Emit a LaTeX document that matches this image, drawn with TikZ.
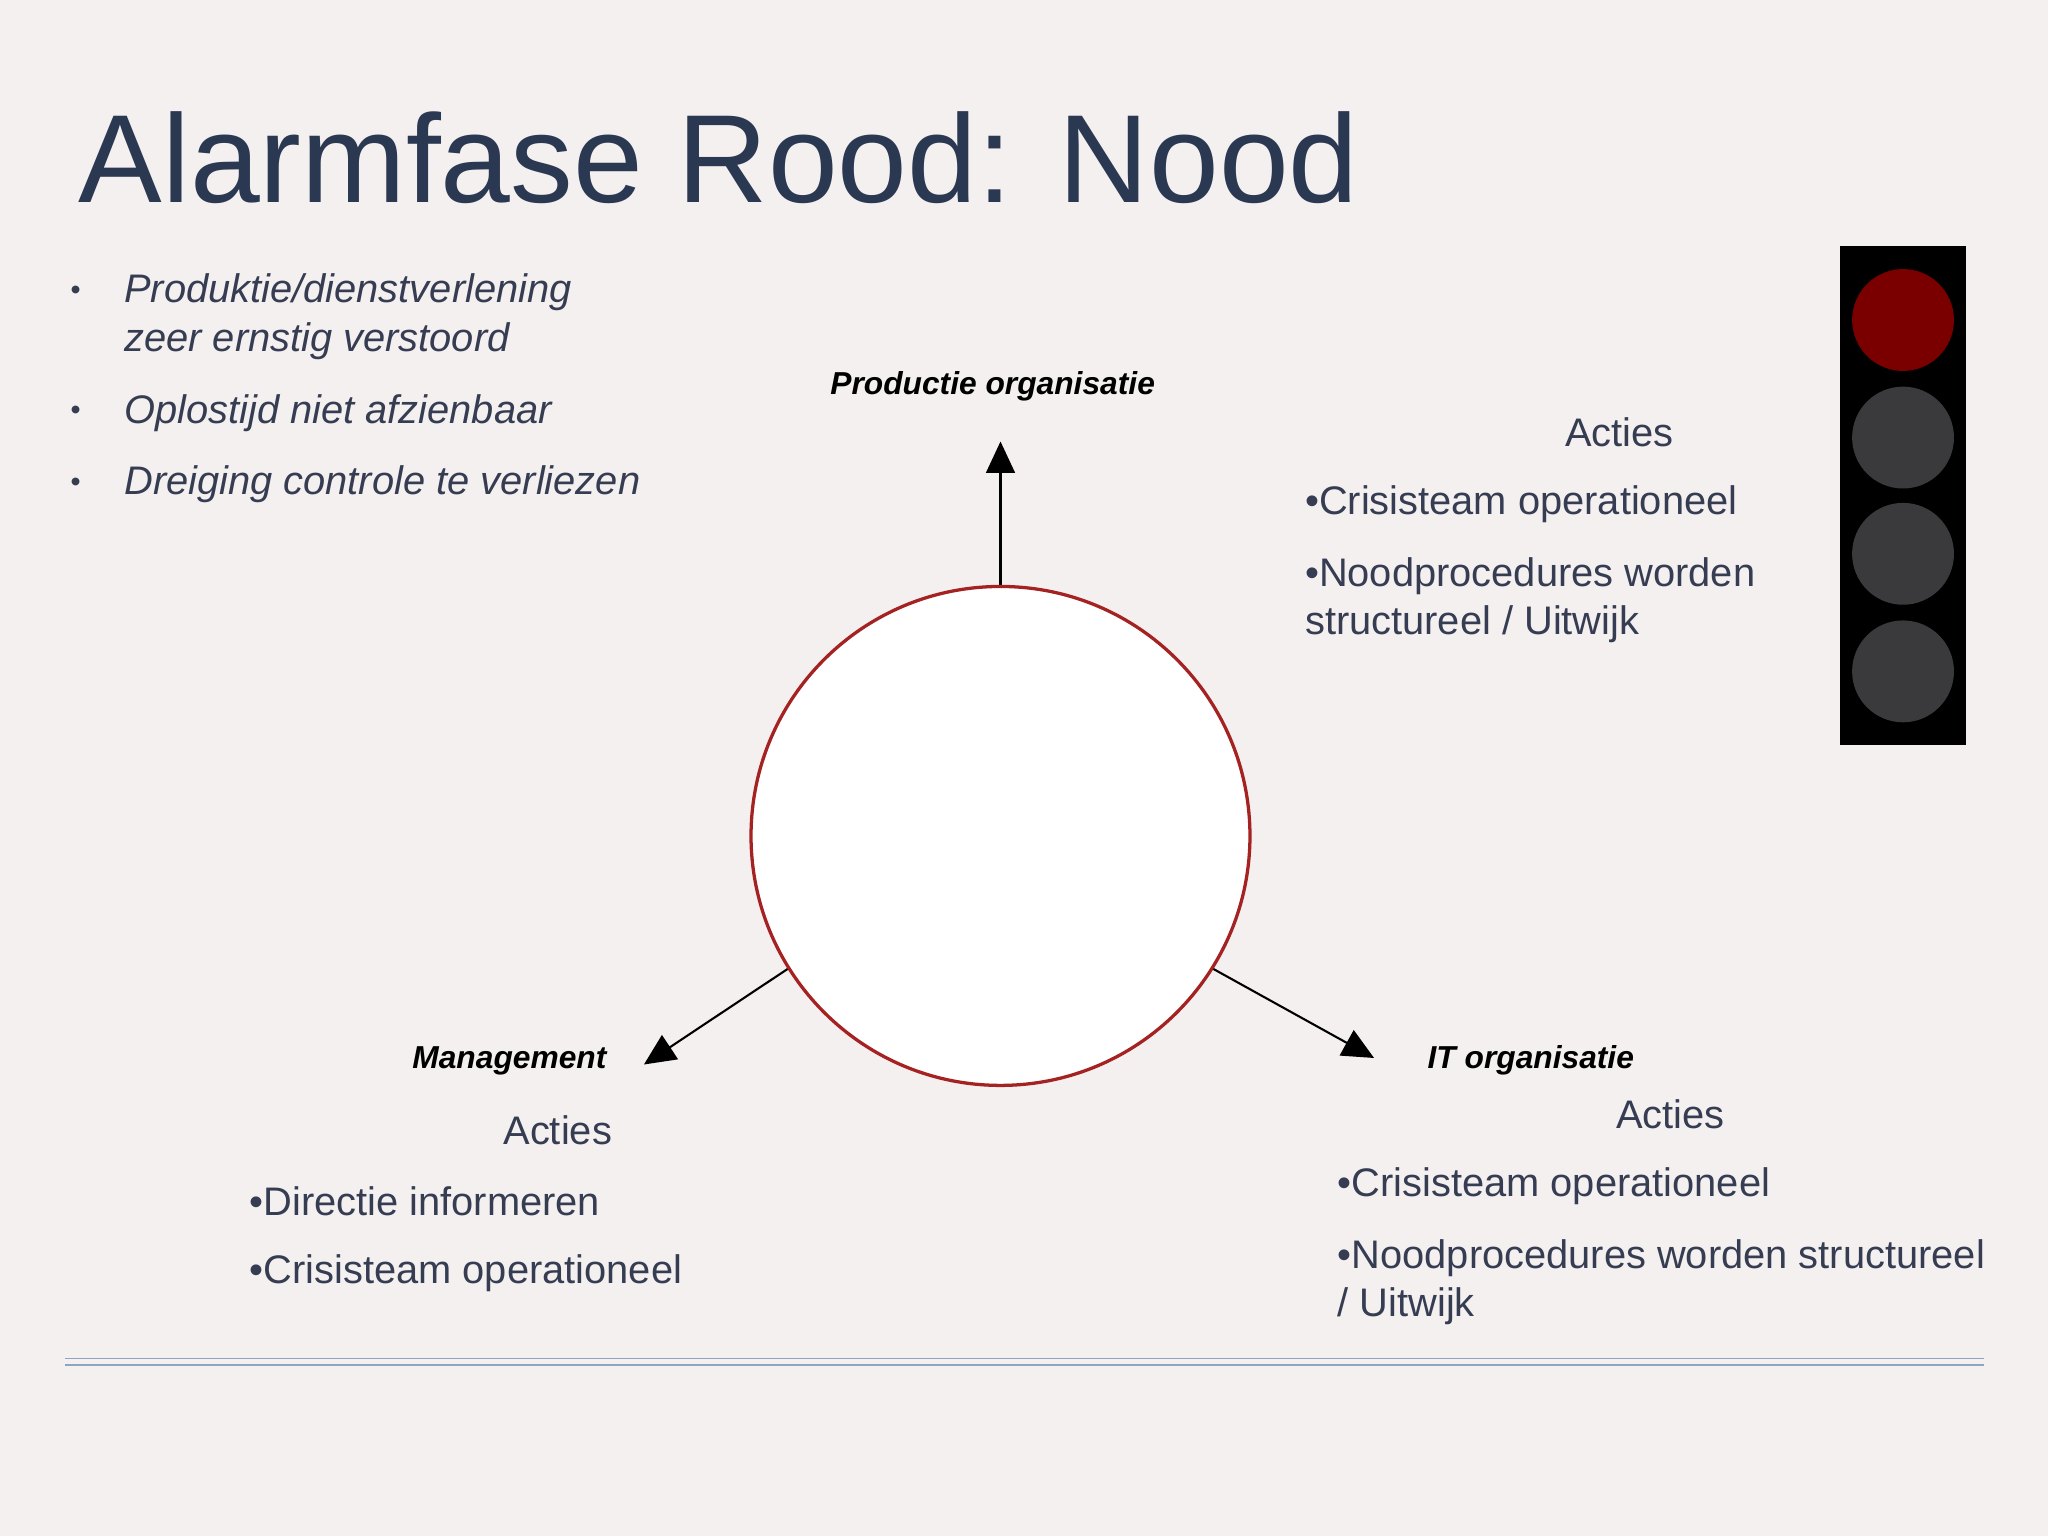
\documentclass[tikz,border=0pt]{standalone}
\usepackage{fontspec}
\usetikzlibrary{arrows.meta}
\setmainfont{Liberation Sans}
\definecolor{bg}{HTML}{F3F0EF}
\definecolor{navy}{HTML}{2B3852}
\definecolor{txt}{HTML}{363D52}
\definecolor{ringred}{HTML}{A42222}
\definecolor{lamp}{HTML}{3A3A3C}
\definecolor{redlamp}{HTML}{7A0000}
\definecolor{rule}{HTML}{8FA3C2}
\begin{document}
\begin{tikzpicture}[x=1pt,y=-1pt,
  body/.style={font=\fontsize{30.5}{34}\selectfont,text=txt,anchor=west,inner sep=0},
  bul/.style={font=\fontsize{30.5}{34}\selectfont\itshape,text=txt,anchor=west,inner sep=0},
  lab/.style={font=\fontsize{24.3}{28}\selectfont\bfseries\itshape,text=black,inner sep=0},
  arr/.style={line width=1.6pt,-{Triangle[length=24pt,width=22pt]}}]
\fill[bg] (0,0) rectangle (1568,1176);
\useasboundingbox (0,0) rectangle (1568,1176);
\node[anchor=base west,inner sep=0,text=navy,font=\fontsize{96}{106}\selectfont] (title) at (60,155) {Alarmfase Rood: Nood};
% bullets
\foreach \y in {224,316,371} \node[text=txt,font=\fontsize{22}{24}\selectfont] at (58,\y) {•};
\node[bul] (b1) at (95,224) {Produktie/dienstverlening};
\node[bul] (b1b) at (95,261) {zeer ernstig verstoord};
\node[bul] (b2) at (95,316) {Oplostijd niet afzienbaar};
\node[bul] (b3) at (95,371) {Dreiging controle te verliezen};
% traffic light
\fill[black] (1409,188) rectangle (1505,570);
\fill[redlamp] (1457,245) circle (39);
\foreach \y in {335,424,514} \fill[lamp] (1457,\y) circle (39);
% circle
\node[circle,draw=ringred,line width=2.5pt,fill=white,minimum size=382pt,inner sep=0] (c) at (766,640) {};
\coordinate (tTop) at (766,338);
\coordinate (tLeft) at (493,815);
\coordinate (tRight) at (1052,810);
\draw[arr] (c.90) -- (tTop);
\draw[arr] (c.212) -- (tLeft);
\draw[arr] (c.328) -- (tRight);
\node[lab] (lp) at (760,296) {Productie organisatie};
\node[lab] (lm) at (390,812) {Management};
\node[lab] (li) at (1172,812) {IT organisatie};
% actions top right
\node[body,anchor=center] (a1) at (1240,331) {Acties};
\node[body] at (999,386) {•Crisisteam operationeel};
\node[body] at (999,441) {•Noodprocedures worden};
\node[body] at (999,478) {structureel / Uitwijk};
% bottom left
\node[body,anchor=center] (a2) at (427,865) {Acties};
\node[body] at (191,920) {•Directie informeren};
\node[body] at (191,975) {•Crisisteam operationeel};
% bottom right
\node[body,anchor=center] (a3) at (1279,853) {Acties};
\node[body] at (1024,908) {•Crisisteam operationeel};
\node[body] at (1024,963) {•Noodprocedures worden structureel};
\node[body] at (1024,1000) {/ Uitwijk};
% rule
\draw[rule,line width=1pt] (50,1040) -- (1519,1040);
\draw[rule,line width=1pt] (50,1045) -- (1519,1045);
\end{tikzpicture}
\end{document}
